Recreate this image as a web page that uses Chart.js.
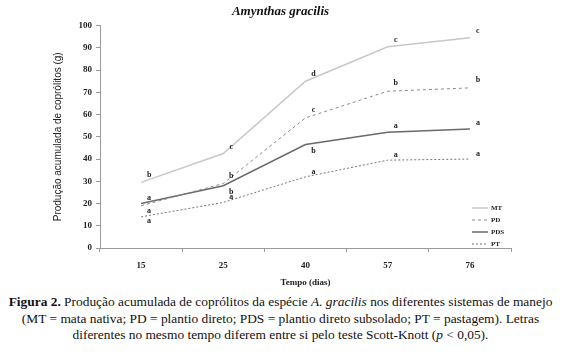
<!DOCTYPE html>
<html>
<head>
<meta charset="utf-8">
<script src="https://cdn.jsdelivr.net/npm/chart.js@4.4.1/dist/chart.umd.min.js"></script>
<style>
  body { margin: 0; background: #fff; width: 561px; height: 353px; overflow: hidden; position: relative; }
  #wrap { position: absolute; left: 0; top: 0; width: 561px; height: 290px; }
  #caption {
    position: absolute; left: 0; top: 294px; width: 561px;
    font-family: "Liberation Serif", "Times New Roman", Times, "DejaVu Serif", "Noto Serif", serif;
    font-size: 13.4px; line-height: 16.5px; white-space: nowrap;
    text-align: center; color: #111;
  }
</style>
</head>
<body>
<div id="wrap"><canvas id="chart" width="561" height="290"></canvas></div>
<div id="caption"><b>Figura 2.</b> Produção acumulada de coprólitos da espécie <i>A. gracilis</i> nos diferentes sistemas de manejo<br>(MT = mata nativa; PD = plantio direto; PDS = plantio direto subsolado; PT = pastagem). Letras<br>diferentes no mesmo tempo diferem entre si pelo teste Scott-Knott (<i>p</i> &lt; 0,05).</div>
<script>
// Tempo (dias)
const days = ['15', '25', '40', '57', '76'];

// Produção acumulada (g)
const mtValues = [29.5, 42.5, 75, 90.5, 94.5];
const pdValues = [19, 29, 58.5, 70.5, 72];
const pdsValues = [20, 28, 46.5, 52, 53.5];
const ptValues = [14, 20.5, 32, 39.5, 40];

// letras do teste Scott-Knott
const mtLetters = ['b', 'c', 'd', 'c', 'c'];
const pdLetters = ['a', 'b', 'c', 'b', 'b'];
const pdsLetters = ['a', 'b', 'b', 'a', 'a'];
const ptLetters = ['a', 'a', 'a', 'a', 'a'];

const serif = '"Liberation Serif", "Times New Roman", Times, "DejaVu Serif", serif';

// letters next to each point
const letterPlugin = {
    id: 'letters',
    afterDatasetsDraw(chart) {
        const ctx = chart.ctx;
        const offsets = [[8, -7], [8, -8], [8, 6], [8, -5]];
        ctx.save();
        ctx.font = 'bold 8px ' + serif;
        ctx.fillStyle = '#222';
        ctx.textAlign = 'center';
        ctx.textBaseline = 'middle';
        chart.data.datasets.forEach((ds, i) => {
            const meta = chart.getDatasetMeta(i);
            meta.data.forEach((pt, j) => {
                let dy = offsets[i][1];
                if (i === 2 && (j === 0 || j >= 3)) dy = -6;
                if (i === 1 && j === 0) dy = 5;
                if (i === 3 && j === 0) dy = 4;
                ctx.fillText(ds.letters[j], pt.x + offsets[i][0], pt.y + dy);
            });
        });
        ctx.restore();
    }
};

// legend inside the plot, bottom right
const legendPlugin = {
    id: 'insideLegend',
    afterDraw(chart) {
        const ctx = chart.ctx;
        const x0 = 472, y0 = 208, step = 12;
        ctx.save();
        ctx.font = 'bold 7px ' + serif;
        ctx.textBaseline = 'middle';
        ctx.fillStyle = '#222';
        chart.data.datasets.forEach((ds, i) => {
            const y = y0 + i * step;
            ctx.strokeStyle = ds.borderColor;
            ctx.lineWidth = ds.borderWidth;
            ctx.setLineDash(ds.borderDash || []);
            ctx.beginPath();
            ctx.moveTo(x0, y);
            ctx.lineTo(x0 + 16, y);
            ctx.stroke();
            ctx.setLineDash([]);
            ctx.fillText(ds.label, x0 + 19, y);
        });
        ctx.restore();
    }
};

new Chart(document.getElementById('chart').getContext('2d'), {
    type: 'line',
    data: {
        labels: days,
        datasets: [
            { label: 'MT', data: mtValues, letters: mtLetters, borderColor: '#c8c8c8', borderWidth: 1.5, pointRadius: 0, tension: 0 },
            { label: 'PD', data: pdValues, letters: pdLetters, borderColor: '#8a8a8a', borderWidth: 1, borderDash: [3, 3], pointRadius: 0, tension: 0 },
            { label: 'PDS', data: pdsValues, letters: pdsLetters, borderColor: '#6a6a6a', borderWidth: 1.5, pointRadius: 0, tension: 0 },
            { label: 'PT', data: ptValues, letters: ptLetters, borderColor: '#777777', borderWidth: 1, borderDash: [2, 2], pointRadius: 0, tension: 0 }
        ]
    },
    options: {
        responsive: false,
        animation: false,
        layout: { padding: { left: 50, right: 50, top: 0, bottom: 0 } },
        scales: {
            x: {
                offset: true,
                grid: { drawOnChartArea: false, offset: true, tickLength: 4, color: '#999' },
                border: { color: '#999' },
                ticks: { color: '#222', font: { family: serif, size: 9, weight: 'bold' }, padding: 8 },
                title: { display: true, text: 'Tempo (dias)', color: '#222', font: { family: serif, size: 9, weight: 'bold' }, padding: { top: 6, bottom: 2 } },
                afterFit(scale) { scale.height = 42; }
            },
            y: {
                min: 0,
                max: 100,
                ticks: { stepSize: 10, color: '#222', font: { family: serif, size: 9, weight: 'bold' }, padding: 4 },
                grid: { drawOnChartArea: false, tickLength: 4, color: '#999' },
                border: { color: '#999' },
                title: { display: true, text: 'Produção acumulada de coprólitos (g)', color: '#222', font: { family: '"Liberation Sans", Arial, sans-serif', size: 10 }, padding: 2 },
                afterFit(scale) { scale.width = 50; }
            }
        },
        plugins: {
            legend: { display: false },
            tooltip: { enabled: false },
            title: {
                display: true,
                text: 'Amynthas gracilis',
                color: '#111',
                font: { family: serif, size: 13, weight: 'bold', style: 'italic' },
                padding: { top: 4, bottom: 6 }
            }
        }
    },
    plugins: [letterPlugin, legendPlugin]
});
</script>
</body>
</html>
